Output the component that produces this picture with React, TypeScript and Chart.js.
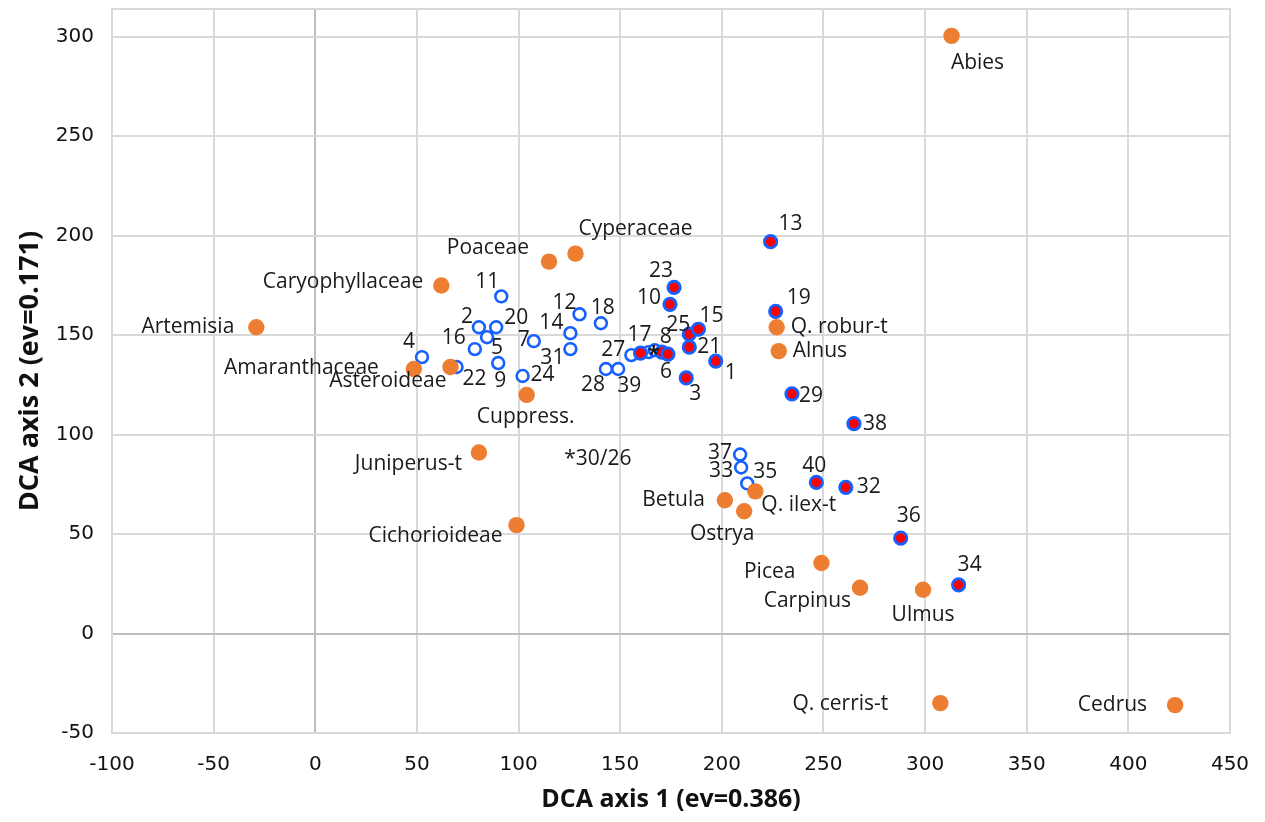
import React, { useEffect, useRef } from "react";
import { Chart, registerables } from "chart.js";

Chart.register(...registerables);

// ---- data ----
const taxaNames = [
  "Abies", "Cyperaceae", "Poaceae", "Caryophyllaceae", "Artemisia", "Amaranthaceae",
  "Asteroideae", "Cuppress.", "Juniperus-t", "Cichorioideae", "Q. robur-t", "Alnus",
  "Betula", "Q. ilex-t", "Ostrya", "Picea", "Carpinus", "Ulmus", "Q. cerris-t", "Cedrus",
];
const taxaX = [313, 128, 115, 62, -29, 48.5, 66.5, 104, 80.5, 99, 227, 228, 201.5, 216.5, 211, 249, 268, 299, 307.5, 423];
const taxaY = [300.5, 191, 187, 175, 154, 133, 134, 120, 91, 54.5, 154, 142, 67, 71.5, 61.5, 35.5, 23, 22, -35, -36];

const filledIds = ["13", "19", "23", "10", "25", "15", "21", "1", "3", "29", "38", "40", "32", "36", "34", "17", "8", "6"];
const filledX = [224, 226.5, 176.5, 174.5, 184, 188.5, 184, 197, 182.5, 234.5, 265, 246.5, 261, 288, 316.5, 160, 170.5, 173.5];
const filledY = [197, 162, 174, 165.5, 150.5, 153, 144, 137, 128.5, 120.5, 105.5, 76, 73.5, 48, 24.5, 141, 141.5, 140.5];

const openIds = ["11", "2", "20", "5", "16", "4", "22", "9", "7", "24", "14", "31", "12", "18", "28", "39", "27", "37", "33", "35", "30", "26"];
const openX = [91.5, 80.5, 89, 84.5, 78.5, 52.5, 69.5, 90, 107.5, 102, 125.5, 125.5, 130, 140.5, 143, 149, 155.5, 209, 209.5, 212.5, 164, 167];
const openY = [169.5, 154, 154, 149, 143, 139, 134, 136, 147, 129.5, 151, 143, 160.5, 156, 133, 133, 140, 90, 83.5, 75.5, 141.5, 142.5];

const noteText = "*30/26";
const noteX = 139;
const noteY = 88;

const xTicksMin = -100;
const xTicksMax = 450;
const yTicksMin = -50;
const yTicksMax = 314;
const tickStep = 50;

const xTitle = "DCA axis 1 (ev=0.386)";
const yTitle = "DCA axis 2 (ev=0.171)";

// ---- label placement (pixel offsets from the marker, layout only) ----
type Place = [number, number, CanvasTextAlign];
const labelPlace: Record<string, Place> = {
  Abies: [26, 27, "center"],
  Cyperaceae: [60, -25, "center"],
  Poaceae: [-20, -14, "right"],
  Caryophyllaceae: [-18, -3, "right"],
  Artemisia: [-22, 0, "right"],
  Amaranthaceae: [-35, -1, "right"],
  Asteroideae: [-4, 14, "right"],
  "Cuppress.": [-1, 22, "center"],
  "Juniperus-t": [-17, 11, "right"],
  Cichorioideae: [-14, 11, "right"],
  "Q. robur-t": [14, 0, "left"],
  Alnus: [14, 0, "left"],
  Betula: [-20, 0, "right"],
  "Q. ilex-t": [6, 14, "left"],
  Ostrya: [-22, 23, "center"],
  Picea: [-26, 9, "right"],
  Carpinus: [-9, 13, "right"],
  Ulmus: [0, 25, "center"],
  "Q. cerris-t": [-52, 1, "right"],
  Cedrus: [-28, 0, "right"],
  "11": [-14, -14, "center"],
  "2": [-12, -10, "center"],
  "20": [20, -9, "center"],
  "5": [10, 11, "center"],
  "16": [-21, -11, "center"],
  "4": [-13, -15, "center"],
  "22": [18, 12, "center"],
  "9": [2, 18, "center"],
  "7": [-10, -1, "center"],
  "24": [20, -1, "center"],
  "14": [-19, -10, "center"],
  "31": [-18, 9, "center"],
  "12": [-15, -11, "center"],
  "18": [2, -15, "center"],
  "28": [-13, 16, "center"],
  "39": [11, 17, "center"],
  "27": [-18, -5, "center"],
  "17": [-1, -18, "center"],
  "8": [4, -15, "center"],
  "6": [-2, 18, "center"],
  "23": [-13, -16, "center"],
  "10": [-21, -6, "center"],
  "25": [-11, -9, "center"],
  "15": [13, -13, "center"],
  "21": [20, 0, "center"],
  "1": [15, 12, "center"],
  "3": [9, 16, "center"],
  "13": [20, -18, "center"],
  "19": [23, -13, "center"],
  "29": [19, 2, "center"],
  "38": [21, 0, "center"],
  "37": [-20, -2, "center"],
  "33": [-20, 4, "center"],
  "35": [18, -11, "center"],
  "40": [-2, -16, "center"],
  "32": [23, 0, "center"],
  "36": [8, -22, "center"],
  "34": [11, -20, "center"],
};
const hiddenLabels = ["30"];
const starLabels = ["26"];

const LABEL_FONT = "21px 'Open Sans'";
const TEXT_COLOR = "#1a1a1a";

const labelPlugin = {
  id: "pointLabels",
  beforeDatasetsDraw(chart: any) {
    const { ctx, chartArea } = chart;
    ctx.save();
    ctx.strokeStyle = "#d9d9d9";
    ctx.lineWidth = 2;
    ctx.strokeRect(chartArea.left, chartArea.top, chartArea.right - chartArea.left, chartArea.bottom - chartArea.top);
    ctx.restore();
  },
  afterDatasetsDraw(chart: any) {
    const { ctx } = chart;
    ctx.save();
    ctx.fillStyle = TEXT_COLOR;
    ctx.textBaseline = "middle";
    chart.data.datasets.forEach((ds: any, i: number) => {
      const meta = chart.getDatasetMeta(i);
      meta.data.forEach((el: any, j: number) => {
        const lbl = ds.pointLabels[j];
        if (hiddenLabels.includes(lbl)) return;
        if (starLabels.includes(lbl)) {
          ctx.font = "bold 22px 'Open Sans'";
          ctx.textAlign = "center";
          ctx.fillText("*", el.x - 1, el.y + 5);
          return;
        }
        const p = labelPlace[lbl] || [0, -16, "center"];
        ctx.font = LABEL_FONT;
        ctx.textAlign = p[2];
        ctx.fillText(lbl, el.x + p[0], el.y + p[1]);
      });
    });
    const xs = chart.scales.x;
    const ys = chart.scales.y;
    ctx.font = LABEL_FONT;
    ctx.textAlign = "center";
    ctx.fillText(noteText, xs.getPixelForValue(noteX), ys.getPixelForValue(noteY));
    ctx.restore();
  },
};

const toPts = (xs: number[], ys: number[]) => xs.map((x, i) => ({ x, y: ys[i] }));

export default function App() {
  const ref = useRef<HTMLCanvasElement | null>(null);
  useEffect(() => {
    if (!ref.current) return;
    const gridColor = (c: any) => (c.tick && c.tick.value === 0 ? "#bdbdbd" : "#d9d9d9");
    const tickFont = { family: "DejaVu Sans", size: 20 };
    const chart = new Chart(ref.current, {
      type: "scatter",
      data: {
        datasets: [
          {
            label: "taxa",
            data: toPts(taxaX, taxaY),
            pointLabels: taxaNames,
            backgroundColor: "#ED7D31",
            borderColor: "#ED7D31",
            borderWidth: 0,
            pointRadius: 8.2,
          } as any,
          {
            label: "samples filled",
            data: toPts(filledX, filledY),
            pointLabels: filledIds,
            backgroundColor: "#FF0000",
            borderColor: "#1560FF",
            borderWidth: 2.8,
            pointRadius: 6.2,
          } as any,
          {
            label: "samples open",
            data: toPts(openX, openY),
            pointLabels: openIds,
            backgroundColor: "#FFFFFF",
            borderColor: "#1560FF",
            borderWidth: 2.6,
            pointRadius: 5.9,
          } as any,
        ],
      },
      options: {
        animation: false,
        responsive: false,
        layout: { padding: { top: 7, right: 35, left: 0, bottom: 0 } },
        plugins: { legend: { display: false }, tooltip: { enabled: false } },
        scales: {
          x: {
            type: "linear",
            min: xTicksMin,
            max: xTicksMax,
            ticks: { stepSize: tickStep, color: "#111", font: tickFont, padding: 20, includeBounds: false },
            grid: { color: gridColor, lineWidth: 2, drawTicks: false },
            border: { display: false },
            title: { display: true, text: xTitle, color: "#111", font: { family: "'Open Sans'", size: 25, weight: "bold" }, padding: { top: 0, bottom: 7 } },
            afterFit: (s: any) => { s.height = 89; s.paddingLeft = 0; s.paddingRight = 0; },
          },
          y: {
            type: "linear",
            min: yTicksMin,
            max: yTicksMax,
            ticks: { stepSize: tickStep, color: "#111", font: tickFont, padding: 18, includeBounds: false },
            grid: { color: gridColor, lineWidth: 2, drawTicks: false },
            border: { display: false },
            title: { display: true, text: yTitle, color: "#111", font: { family: "'Open Sans'", size: 27, weight: "bold" }, padding: { top: 14, bottom: 0 } },
            afterFit: (s: any) => { s.width = 112; s.paddingTop = 0; s.paddingBottom = 0; },
          },
        },
      } as any,
      plugins: [labelPlugin],
    });
    return () => chart.destroy();
  }, []);
  return (
    <div style={{ position: "fixed", left: 0, top: 0, width: 1265, height: 822, background: "#fff" }}>
      <canvas ref={ref} width={1265} height={822} />
    </div>
  );
}
